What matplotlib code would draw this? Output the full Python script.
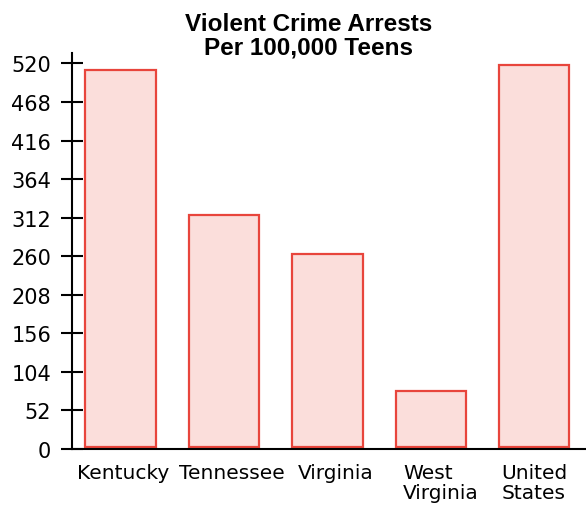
import numpy as np
import matplotlib
matplotlib.use("Agg")
import matplotlib.pyplot as plt

# Valores
estados = ["Kentucky", "Tennessee", "Virginia", "West\nVirginia", "United\nStates"]
arrestos = [511, 315, 263, 78, 518]
marcas_y = [0, 52, 104, 156, 208, 260, 312, 364, 416, 468, 520]

fig = plt.figure(figsize=(5.86, 5.06), dpi=100)
ax = fig.add_axes([72 / 586, 56 / 506, 1 - 72 / 586, 396 / 506])

x = np.arange(len(estados))
hueco = 3  # las barras no tocan el eje
ax.bar(x, np.array(arrestos) - hueco, bottom=hueco, width=0.68,
       color="#fbdedb", edgecolor="#e8453c", linewidth=1.6)

ax.set_xlim(-0.47, 4.5)
ax.set_ylim(0, 534)
ax.set_yticks(marcas_y)
ax.set_xticks(x + np.array([0.02, 0.08, 0.08, 0.1, 0.0]))
ax.set_xticklabels(estados, fontsize=14.5, linespacing=1.08, ha="center",
                   multialignment="left", family="DejaVu Sans")
for t in ax.get_yticklabels():
    t.set_fontsize(15)

ax.tick_params(axis="y", direction="inout", length=16, width=1.5, pad=7)
ax.tick_params(axis="x", length=0, pad=10)

for lado in ["top", "right"]:
    ax.spines[lado].set_visible(False)
ax.spines["left"].set_linewidth(1.5)
ax.spines["bottom"].set_linewidth(1.5)

fig.suptitle("Violent Crime Arrests\nPer 100,000 Teens", x=0.527, y=0.974,
             fontsize=17.5, fontweight="bold", family="Liberation Sans",
             linespacing=1.0)

fig.savefig("out.png", dpi=100)
